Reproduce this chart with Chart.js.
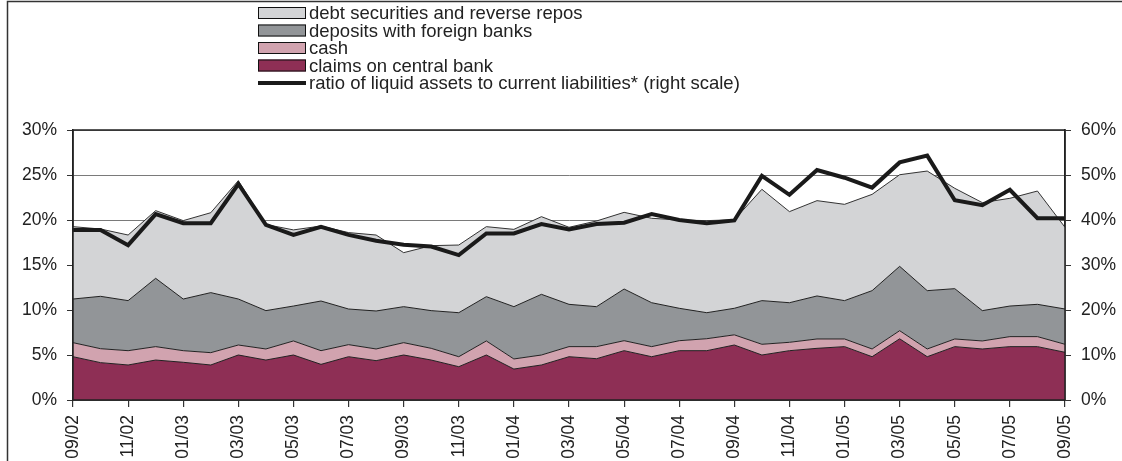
<!DOCTYPE html>
<html>
<head>
<meta charset="utf-8">
<script src="https://cdn.jsdelivr.net/npm/chart.js@4/dist/chart.umd.min.js"></script>
<style>
  html, body { margin: 0; padding: 0; background: #ffffff; }
  #wrap { position: relative; width: 1122px; height: 461px; }
  canvas { display: block; }
</style>
</head>
<body>
<div id="wrap"><canvas id="c" width="1122" height="461"></canvas></div>
<script>
const months = ['09/02','10/02','11/02','12/02','01/03','02/03','03/03','04/03','05/03','06/03','07/03','08/03',
  '09/03','10/03','11/03','12/03','01/04','02/04','03/04','04/04','05/04','06/04','07/04','08/04',
  '09/04','10/04','11/04','12/04','01/05','02/05','03/05','04/05','05/05','06/05','07/05','08/05','09/05'];

const claimsOnCentralBank = [4.81,4.15,3.89,4.44,4.19,3.89,5.00,4.44,5.00,3.96,4.81,4.37,5.00,4.44,3.70,5.00,3.44,3.89,4.81,4.59,5.48,4.81,5.48,5.48,6.11,5.00,5.48,5.74,5.93,4.81,6.80,4.81,5.93,5.67,5.93,5.93,5.30];
const cash = [1.56,1.55,1.59,1.49,1.29,1.37,1.11,1.23,1.56,1.52,1.34,1.30,1.37,1.30,1.11,1.56,1.12,1.11,1.12,1.34,1.11,1.12,1.11,1.33,1.13,1.19,0.93,1.04,0.85,0.86,0.90,0.86,0.85,0.89,1.11,1.11,0.89];
const depositsForeign = [4.85,5.82,5.56,7.59,5.74,6.67,5.11,4.26,3.88,5.52,3.96,4.22,4.00,4.19,4.89,4.92,5.81,6.74,4.70,4.44,5.74,4.88,3.60,2.89,2.95,4.85,4.40,4.78,4.26,6.48,7.15,6.48,5.59,3.37,3.40,3.59,3.92];
const debtSecurities = [8.04,7.48,7.29,7.52,8.71,8.88,13.15,9.57,8.46,8.33,8.49,8.44,6.00,7.22,7.52,7.78,8.59,8.63,8.56,9.52,8.52,9.38,9.81,10.23,9.84,12.37,10.12,10.59,10.70,10.70,10.18,13.29,11.15,12.00,11.97,12.59,9.08];
const liquidityRatio = [37.8,37.8,34.4,41.3,39.3,39.3,48.0,38.9,36.7,38.5,36.7,35.4,34.5,34.1,32.2,37.0,37.0,39.1,37.9,39.1,39.4,41.3,40.0,39.3,39.9,49.8,45.6,51.1,49.4,47.2,52.8,54.3,44.4,43.3,46.7,40.4,40.4];

const leftTicks = [0, 5, 10, 15, 20, 25, 30];
const rightTicks = [0, 10, 20, 30, 40, 50, 60];

const FONT = '"Liberation Sans", Arial, Helvetica, sans-serif';
const INK = '#222222';

const legendOrder = [4, 3, 2, 1, 0];

const framePlugin = {
  id: 'frame',
  beforeDraw(chart) {
    const ctx = chart.ctx;
    ctx.save();
    ctx.strokeStyle = '#333333';
    ctx.lineWidth = 1.5;
    ctx.beginPath();
    ctx.moveTo(7.5, chart.height);
    ctx.lineTo(7.5, 1.5);
    ctx.lineTo(chart.width, 1.5);
    ctx.stroke();
    ctx.restore();
  },
  afterDatasetsDraw(chart) {
    const a = chart.chartArea;
    const ctx = chart.ctx;
    ctx.save();
    ctx.strokeStyle = '#222222';
    ctx.lineWidth = 1.5;
    ctx.strokeRect(a.left, a.top, a.right - a.left, a.bottom - a.top);
    ctx.restore();
  }
};

const legendPlugin = {
  id: 'stackLegend',
  afterDraw(chart) {
    const ctx = chart.ctx;
    ctx.save();
    ctx.font = '18.5px ' + FONT;
    ctx.textBaseline = 'middle';
    ctx.textAlign = 'left';
    const boxX = 258, boxW = 48, boxH = 12, textX = 309;
    const rowY = [13, 30.5, 48, 65.5, 83];
    legendOrder.forEach((di, k) => {
      const ds = chart.data.datasets[di];
      const y = rowY[k];
      if (ds.fill === false) {
        ctx.strokeStyle = ds.borderColor;
        ctx.lineWidth = 4;
        ctx.beginPath();
        ctx.moveTo(boxX, y);
        ctx.lineTo(boxX + boxW, y);
        ctx.stroke();
      } else {
        ctx.fillStyle = ds.backgroundColor;
        ctx.fillRect(boxX, y - boxH / 2, boxW, boxH);
        ctx.strokeStyle = '#111111';
        ctx.lineWidth = 1;
        ctx.strokeRect(boxX + 0.5, y - boxH / 2 + 0.5, boxW - 1, boxH - 1);
      }
      ctx.fillStyle = INK;
      ctx.fillText(ds.label, textX, y + 1);
    });
    ctx.restore();
  }
};

new Chart(document.getElementById('c'), {
  type: 'line',
  data: {
    labels: months,
    datasets: [
      { label: 'ratio of liquid assets to current liabilities* (right scale)', data: liquidityRatio, yAxisID: 'y2',
        borderColor: '#1a1a1a', borderWidth: 4, fill: false, pointRadius: 0, tension: 0, borderJoinStyle: 'miter' },
      { label: 'claims on central bank', data: claimsOnCentralBank, yAxisID: 'y',
        backgroundColor: '#8E2F55', borderColor: '#222222', borderWidth: 1, fill: 'origin', pointRadius: 0, tension: 0 },
      { label: 'cash', data: cash, yAxisID: 'y',
        backgroundColor: '#D1A3AF', borderColor: '#222222', borderWidth: 1, fill: '-1', pointRadius: 0, tension: 0 },
      { label: 'deposits with foreign banks', data: depositsForeign, yAxisID: 'y',
        backgroundColor: '#929598', borderColor: '#222222', borderWidth: 1, fill: '-1', pointRadius: 0, tension: 0 },
      { label: 'debt securities and reverse repos', data: debtSecurities, yAxisID: 'y',
        backgroundColor: '#D3D4D6', borderColor: '#333333', borderWidth: 1, fill: '-1', pointRadius: 0, tension: 0 }
    ]
  },
  options: {
    responsive: false,
    animation: false,
    devicePixelRatio: 1,
    layout: { padding: { top: 130, left: 0, right: 0, bottom: 0 } },
    plugins: { legend: { display: false }, tooltip: { enabled: false } },
    scales: {
      x: {
        type: 'category',
        offset: false,
        grid: { drawOnChartArea: false, drawTicks: true, tickLength: 7, color: '#333333', lineWidth: 1.2 },
        border: { display: true, color: '#222222', width: 1.5 },
        ticks: {
          autoSkip: false, minRotation: 90, maxRotation: 90, padding: 8,
          color: INK, font: { family: FONT, size: 17.5 },
          callback: function(v, i) { return i % 2 === 0 ? months[i] : null; }
        },
        afterFit(s) { s.height = 61; }
      },
      y: {
        position: 'left', stacked: true, min: 0, max: 30,
        afterBuildTicks(s) { s.ticks = leftTicks.map(v => ({ value: v })); },
        grid: { color: '#7a7a7a', lineWidth: 1, drawTicks: true, tickLength: 6, tickColor: '#333333' },
        border: { display: true, color: '#222222', width: 1.5 },
        ticks: { padding: 10, color: INK, font: { family: FONT, size: 17.5 }, callback: v => v + '%' },
        afterFit(s) { s.width = 73; }
      },
      y2: {
        position: 'right', min: 0, max: 60,
        afterBuildTicks(s) { s.ticks = rightTicks.map(v => ({ value: v })); },
        grid: { drawOnChartArea: false, drawTicks: true, tickLength: 6, color: '#333333' },
        border: { display: true, color: '#222222', width: 1.5 },
        ticks: { padding: 10, color: INK, font: { family: FONT, size: 17.5 }, callback: v => v + '%' },
        afterFit(s) { s.width = 57; }
      }
    }
  },
  plugins: [framePlugin, legendPlugin]
});
</script>
</body>
</html>
